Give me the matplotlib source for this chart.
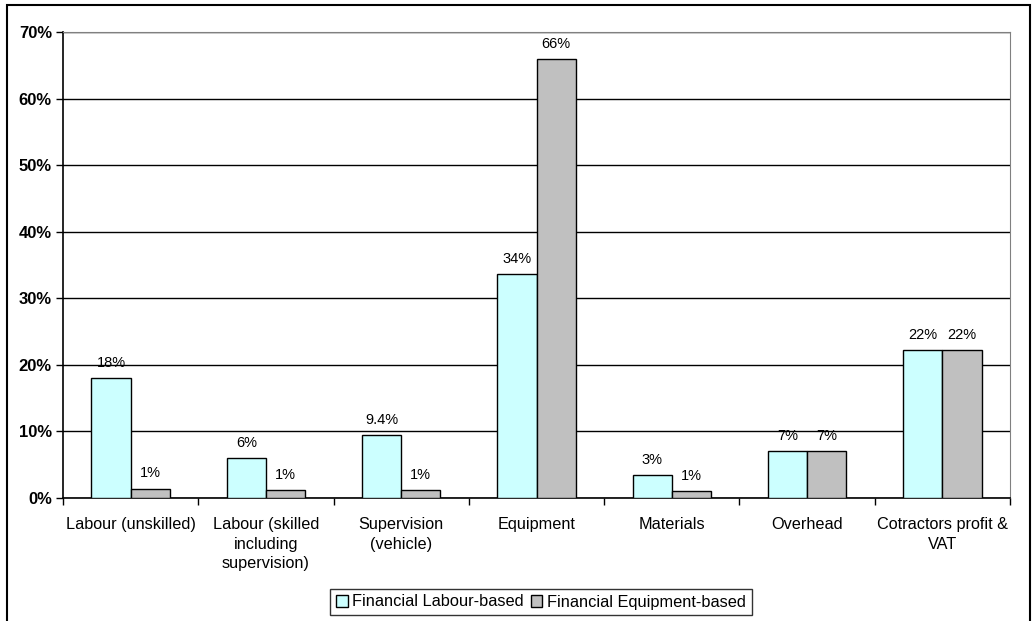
import numpy as np
import matplotlib.pyplot as plt
from matplotlib.patches import Rectangle
from matplotlib.ticker import PercentFormatter

plt.rcParams['font.family'] = ['Liberation Sans', 'DejaVu Sans']

# 항목별 비용 비율
categories = ['Labour (unskilled)', 'Labour (skilled\nincluding\nsupervision)',
              'Supervision\n(vehicle)', 'Equipment', 'Materials', 'Overhead',
              'Cotractors profit &\nVAT']
labour_based = [18.0, 6.0, 9.4, 33.6, 3.4, 7.0, 22.2]
equipment_based = [1.4, 1.2, 1.2, 65.9, 1.0, 7.0, 22.2]
labour_text = ['18%', '6%', '9.4%', '34%', '3%', '7%', '22%']
equipment_text = ['1%', '1%', '1%', '66%', '1%', '7%', '22%']
series_names = ['Financial Labour-based', 'Financial Equipment-based']

fig = plt.figure(figsize=(10.33, 6.21), dpi=100)
ax = fig.add_axes([63 / 1033, 1 - 498 / 621, 947 / 1033, 466 / 621])

x = np.arange(len(categories))
w = 0.29
b1 = ax.bar(x - w / 2, labour_based, w, color='#CCFFFF', edgecolor='black',
            linewidth=1, label=series_names[0], zorder=3)
b2 = ax.bar(x + w / 2, equipment_based, w, color='#C0C0C0', edgecolor='black',
            linewidth=1, label=series_names[1], zorder=3)

for bars, txts in [(b1, labour_text), (b2, equipment_text)]:
    for r, t in zip(bars, txts):
        ax.annotate(t, (r.get_x() + r.get_width() / 2, r.get_height()),
                    xytext=(0, 6), textcoords='offset points',
                    ha='center', va='bottom', fontsize=10.5)

ax.set_xlim(-0.5, len(categories) - 0.5)
ax.set_ylim(0, 70)
ax.set_yticks(range(0, 71, 10))
ax.yaxis.set_major_formatter(PercentFormatter(decimals=0))
for lbl in ax.get_yticklabels():
    lbl.set_fontweight('bold')
ax.tick_params(axis='y', labelsize=12, direction='out', length=5, width=1, pad=3)
ax.grid(axis='y', color='black', linewidth=1, zorder=0)

ax.set_xticks(x)
ax.set_xticklabels(categories, fontsize=11.7, linespacing=1.35)
ax.tick_params(axis='x', length=0, pad=14)
ax.set_xticks(np.arange(-0.5, len(categories), 1), minor=True)
ax.tick_params(axis='x', which='minor', direction='out', length=5, width=1)

for side in ['top', 'right']:
    ax.spines[side].set_color('#808080')
for side in ['left', 'bottom']:
    ax.spines[side].set_color('black')
    ax.spines[side].set_linewidth(1.2)

fig.legend(handles=[b1, b2], labels=series_names, loc='center',
           bbox_to_anchor=(541 / 1033, 1 - 602 / 621), ncol=2, fontsize=11.8,
           frameon=True, fancybox=False, edgecolor='black', handlelength=0.7,
           handleheight=0.7, handletextpad=0.3, columnspacing=0.4,
           borderpad=0.35)

# 바깥 테두리
fig.patches.append(Rectangle((7 / 1033, -0.05), 1023 / 1033, 1 - 5 / 621 + 0.05,
                             transform=fig.transFigure, fill=False,
                             edgecolor='black', linewidth=1.5))

fig.savefig('out.png', dpi=100)
